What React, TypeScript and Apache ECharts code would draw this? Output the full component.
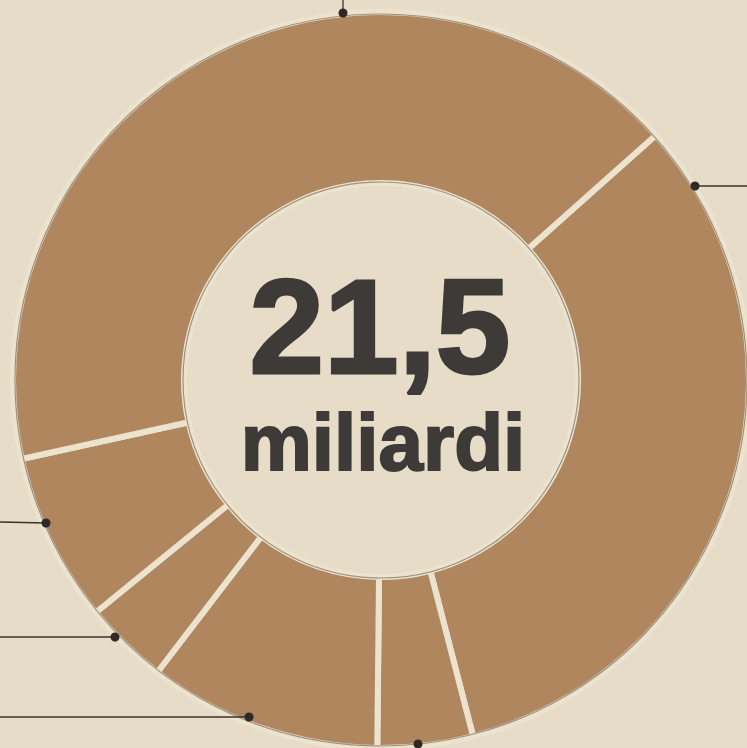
import React, { useEffect, useRef } from "react";
import * as echarts from "echarts";

// Segments, clockwise from the upper-right separator (billions of euro)
const segmentNames = ["A", "B", "C", "D", "E", "F"];
const segmentValues = [7.0, 0.9, 2.2, 0.8, 1.6, 9.0];
const totalLabel = "21,5";
const unitLabel = "miliardi";

const PAPER = "#e6dcc8";
const DONUT = "#b0865f";
const SEP = "#ece3cf";
const INK = "#3d3a37";

export default function App() {
  const ref = useRef<HTMLDivElement>(null);
  useEffect(() => {
    if (!ref.current) return;
    const chart = echarts.init(ref.current, null, { renderer: "svg" });
    const cx = 381;
    const cy = 380;
    const dots = [
      [343, 13, 343, 0],
      [695, 186, 747, 186],
      [46, 523, 0, 522],
      [115, 637, 0, 637],
      [249, 717, 0, 717],
      [418, 744, 418, 748],
    ];
    const graphics: any[] = [];
    dots.forEach(([x, y, x2, y2]) => {
      graphics.push({
        type: "line",
        shape: { x1: x, y1: y, x2, y2 },
        style: { stroke: "#3a332c", lineWidth: 1.3 },
        z: 10,
      });
      graphics.push({
        type: "circle",
        shape: { cx: x, cy: y, r: 4.5 },
        style: { fill: "#2f2a25" },
        z: 11,
      });
    });
    graphics.push(
      {
        type: "circle",
        shape: { cx, cy, r: 366 },
        style: { fill: "none", stroke: "#5e4c3b", lineWidth: 1.2, opacity: 0.55 },
        z: 5,
      },
      {
        type: "circle",
        shape: { cx, cy, r: 198 },
        style: { fill: "none", stroke: "#5e4c3b", lineWidth: 1.2, opacity: 0.55 },
        z: 5,
      },
      {
        type: "text",
        x: cx - 1,
        y: 326,
        style: {
          text: totalLabel,
          fill: INK,
          font: "bold 134px 'Liberation Sans', Arial, sans-serif",
          textAlign: "center",
          textVerticalAlign: "middle",
          stroke: INK,
          lineWidth: 3,
        },
        z: 12,
      },
      {
        type: "text",
        x: cx + 2,
        y: 442,
        style: {
          text: unitLabel,
          fill: INK,
          font: "bold 80px 'Liberation Sans', Arial, sans-serif",
          textAlign: "center",
          textVerticalAlign: "middle",
          stroke: INK,
          lineWidth: 2,
        },
        z: 12,
      }
    );
    chart.setOption({
      animation: false,
      backgroundColor: PAPER,
      graphic: graphics,
      series: [
        {
          type: "pie",
          center: [cx, cy],
          radius: [197, 368],
          startAngle: 41.7,
          clockwise: true,
          silent: true,
          label: { show: false },
          labelLine: { show: false },
          itemStyle: { color: DONUT, borderColor: SEP, borderWidth: 6 },
          data: segmentNames.map((n, i) => ({ name: n, value: segmentValues[i] })),
        },
      ],
    });
    return () => chart.dispose();
  }, []);
  return (
    <div
      ref={ref}
      style={{ position: "fixed", left: 0, top: 0, width: 747, height: 748 }}
    />
  );
}
